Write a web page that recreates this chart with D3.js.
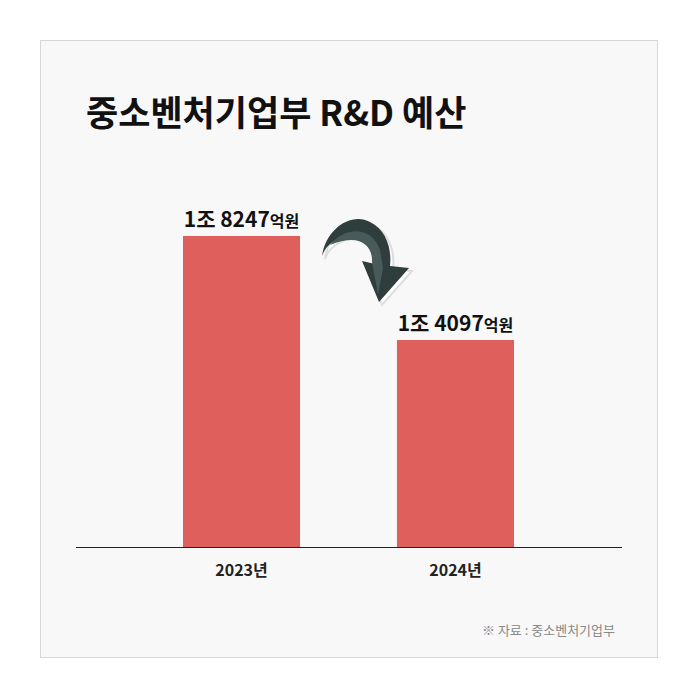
<!DOCTYPE html>
<html><head><meta charset="utf-8">
<script src="https://cdn.jsdelivr.net/npm/d3@7"></script>
<style>body{margin:0;background:#fff;font-family:"Noto Sans CJK KR","Noto Sans",sans-serif}</style>
</head><body><svg id="c" width="698" height="698"></svg>
<script>
const categories = ["2023년","2024년"];
const values = [18247, 14097];
const valueLabels = [["1조 8247","억원"],["1조 4097","억원"]];
const title = "중소벤처기업부 R&D 예산";
const source = "※ 자료 : 중소벤처기업부";

const svg = d3.select("#c");
svg.append("rect").attr("x",40.5).attr("y",40.5).attr("width",617).attr("height",617)
  .attr("fill","#f8f8f8").attr("stroke","#d8d8d8");
svg.append("text").attr("x",86).attr("y",126).attr("font-size",35).attr("font-weight",700)
  .attr("fill","#111").text(title);

const x = d3.scaleBand().domain(categories).range([76,621]).paddingInner(0.453).paddingOuter(0.5);
const y = d3.scaleLinear().domain([5837, 18247]).range([547, 236]);

svg.selectAll(".bar").data(values).join("rect")
  .attr("x",(d,i)=>x(categories[i])).attr("width",x.bandwidth())
  .attr("y",d=>y(d)).attr("height",d=>547-y(d)).attr("fill","#df5f5c");

const lab = svg.selectAll(".lab").data(values).join("text")
  .attr("x",(d,i)=>x(categories[i])+x.bandwidth()/2).attr("y",d=>y(d)-9)
  .attr("text-anchor","middle").attr("fill","#111").attr("font-weight",700);
lab.append("tspan").attr("font-size",21).text((d,i)=>valueLabels[i][0]);
lab.append("tspan").attr("font-size",16).text((d,i)=>valueLabels[i][1]);

svg.append("line").attr("x1",76).attr("x2",622).attr("y1",547.5).attr("y2",547.5).attr("stroke","#222");
const ax = svg.append("g").attr("transform","translate(0,547)").call(d3.axisBottom(x).tickSize(0).tickPadding(18));
ax.select(".domain").remove();
ax.selectAll("text").attr("font-size",16).attr("font-weight",700).attr("fill","#222")
  .attr("font-family","'Noto Sans CJK KR',sans-serif");

svg.append("text").attr("x",615).attr("y",635).attr("text-anchor","end").attr("font-size",13)
  .attr("fill","#888").text(source);

// arrow
const arrow = "M322,256 C326,228 352,212 370,222 C386,230 392,248 390,266 L409,268 L379,302 L362,261 L375,264 C376,245 366,236 352,236 C338,236 326,244 322,256 Z";
svg.append("path").attr("d",arrow).attr("fill","#fff").attr("transform","translate(3,3)").attr("stroke","#ddd").attr("stroke-width",2);
svg.append("path").attr("d",arrow).attr("fill","#2f3d3d");
svg.append("path").attr("d","M330,245 C345,226 372,226 380,250 L383,268 L378,295 L372,262 C373,246 360,232 330,245 Z").attr("fill","#485a5a");
</script></body></html>
